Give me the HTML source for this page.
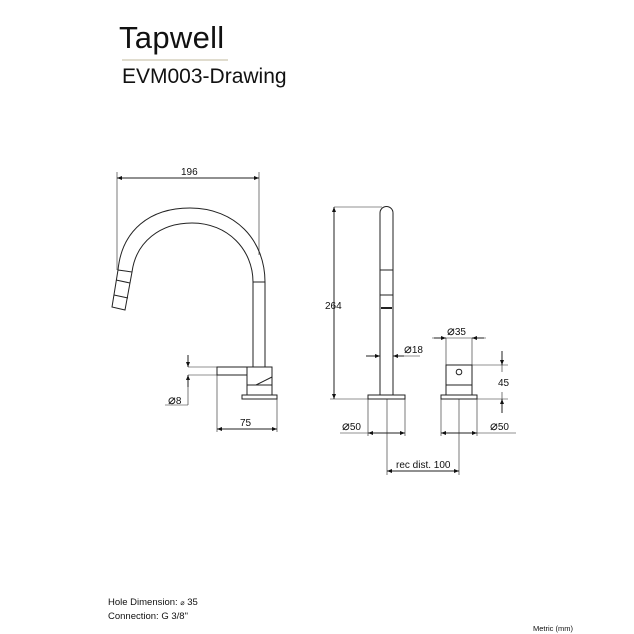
<!DOCTYPE html>
<html><head><meta charset="utf-8"><style>
html,body{margin:0;padding:0;background:#fff;width:634px;height:634px;overflow:hidden}
svg{display:block}
text{font-family:"Liberation Sans",sans-serif;fill:#111}
</style></head><body>
<svg width="634" height="634" viewBox="0 0 634 634" xmlns="http://www.w3.org/2000/svg">
<defs>
<marker id="a" viewBox="0 0 10 10" refX="10" refY="5" markerWidth="7" markerHeight="5" orient="auto-start-reverse" markerUnits="userSpaceOnUse"><path d="M0,1 L10,5 L0,9 z" fill="#111"/></marker>
</defs>
<text x="119" y="48" font-size="31" letter-spacing="0.3">Tapwell</text>
<line x1="122" y1="60" x2="228" y2="60" stroke="#d6d0bd" stroke-width="1.5"/>
<text x="122" y="83" font-size="21">EVM003-Drawing</text>

<g stroke="#222" stroke-width="1" fill="none">
<line x1="117" y1="178" x2="259" y2="178" marker-start="url(#a)" marker-end="url(#a)"/>
<line x1="117" y1="172" x2="117" y2="270" stroke-width=".6"/>
<line x1="259" y1="172" x2="259" y2="255" stroke-width=".6"/>
<path d="M118,270 C122,230 150,208 190,208 C235,208 265,240 265,282"/>
<path d="M132,272 C136,242 160,223 192,223 C228,223 253,250 253,282"/>
<line x1="253" y1="282" x2="265" y2="282"/>
<line x1="253" y1="282" x2="253" y2="367"/>
<line x1="265" y1="282" x2="265" y2="367"/>
<path d="M118,270 L132,272 L125,310 L112,307 Z"/>
<line x1="116" y1="280" x2="130" y2="283"/>
<line x1="114" y1="295" x2="128" y2="298"/>
<rect x="247" y="367" width="25" height="18"/>
<line x1="256" y1="385" x2="272" y2="377"/>
<rect x="217" y="367" width="30" height="8"/>
<line x1="188" y1="367" x2="217" y2="367" stroke-width=".6"/>
<line x1="188" y1="375" x2="217" y2="375" stroke-width=".6"/>
<rect x="247" y="385" width="25" height="10"/>
<rect x="242" y="395" width="35" height="4"/>
<line x1="188" y1="355" x2="188" y2="367" marker-end="url(#a)"/>
<line x1="188" y1="387" x2="188" y2="375" marker-end="url(#a)"/>
<line x1="188" y1="375" x2="188" y2="405" stroke-width=".6"/>
<line x1="165" y1="405" x2="188" y2="405" stroke-width=".6"/>
<line x1="217" y1="375" x2="217" y2="432" stroke-width=".6"/>
<line x1="277" y1="399" x2="277" y2="432" stroke-width=".6"/>
<line x1="217" y1="429" x2="277" y2="429" marker-start="url(#a)" marker-end="url(#a)"/>

<path d="M380,395 L380,213 A6.5,6.5 0 0 1 393,213 L393,395"/>
<line x1="380" y1="270" x2="393" y2="270"/>
<line x1="380" y1="295" x2="393" y2="295"/>
<line x1="381" y1="308" x2="392" y2="308" stroke-width="2"/>
<rect x="368" y="395" width="37" height="4"/>
<line x1="334" y1="207" x2="382" y2="207" stroke-width=".6"/>
<line x1="330" y1="399" x2="368" y2="399" stroke-width=".6"/>
<line x1="334" y1="207" x2="334" y2="399" marker-start="url(#a)" marker-end="url(#a)"/>
<line x1="366" y1="356" x2="380" y2="356" marker-end="url(#a)"/>
<line x1="404" y1="356" x2="393" y2="356" marker-end="url(#a)"/>
<line x1="393" y1="356" x2="420" y2="356" stroke-width=".6"/>
<rect x="446" y="365" width="26" height="20"/>
<circle cx="459" cy="372" r="2.8"/>
<rect x="446" y="385" width="26" height="10"/>
<rect x="441" y="395" width="36" height="4"/>
<line x1="446" y1="338" x2="446" y2="365" stroke-width=".6"/>
<line x1="472" y1="338" x2="472" y2="365" stroke-width=".6"/>
<line x1="432" y1="338" x2="486" y2="338" stroke-width=".6"/>
<line x1="434" y1="338" x2="446" y2="338" marker-end="url(#a)"/>
<line x1="484" y1="338" x2="472" y2="338" marker-end="url(#a)"/>
<line x1="472" y1="365" x2="508" y2="365" stroke-width=".6"/>
<line x1="477" y1="399" x2="508" y2="399" stroke-width=".6"/>
<line x1="502" y1="351" x2="502" y2="365" marker-end="url(#a)"/>
<line x1="502" y1="413" x2="502" y2="399" marker-end="url(#a)"/>
<line x1="502" y1="365" x2="502" y2="372" stroke-width=".6"/>
<line x1="502" y1="392" x2="502" y2="399" stroke-width=".6"/>
<line x1="368" y1="399" x2="368" y2="436" stroke-width=".6"/>
<line x1="405" y1="399" x2="405" y2="436" stroke-width=".6"/>
<line x1="340" y1="433" x2="405" y2="433" stroke-width=".6"/>
<line x1="368" y1="433" x2="405" y2="433" marker-start="url(#a)" marker-end="url(#a)"/>
<line x1="441" y1="399" x2="441" y2="436" stroke-width=".6"/>
<line x1="477" y1="399" x2="477" y2="436" stroke-width=".6"/>
<line x1="441" y1="433" x2="516" y2="433" stroke-width=".6"/>
<line x1="441" y1="433" x2="477" y2="433" marker-start="url(#a)" marker-end="url(#a)"/>
<line x1="387" y1="399" x2="387" y2="475" stroke-width=".6"/>
<line x1="459" y1="399" x2="459" y2="475" stroke-width=".6"/>
<line x1="387" y1="471" x2="459" y2="471" marker-start="url(#a)" marker-end="url(#a)"/>
</g>

<g font-size="10">
<text x="181" y="175">196</text>
<text x="168" y="404"><tspan font-size="13">⌀</tspan>8</text>
<text x="240" y="426">75</text>
<text x="325" y="309">264</text>
<text x="404" y="353"><tspan font-size="13">⌀</tspan>18</text>
<text x="447" y="335"><tspan font-size="13">⌀</tspan>35</text>
<text x="498" y="386">45</text>
<text x="342" y="430"><tspan font-size="13">⌀</tspan>50</text>
<text x="490" y="430"><tspan font-size="13">⌀</tspan>50</text>
<text x="396" y="468">rec dist. 100</text>
<text x="108" y="605" font-size="9.5">Hole Dimension: <tspan font-size="7">⌀</tspan> 35</text>
<text x="108" y="619" font-size="9.5">Connection: G 3/8"</text>
<text x="533" y="631" font-size="7.5">Metric (mm)</text>
</g>
</svg>
</body></html>
